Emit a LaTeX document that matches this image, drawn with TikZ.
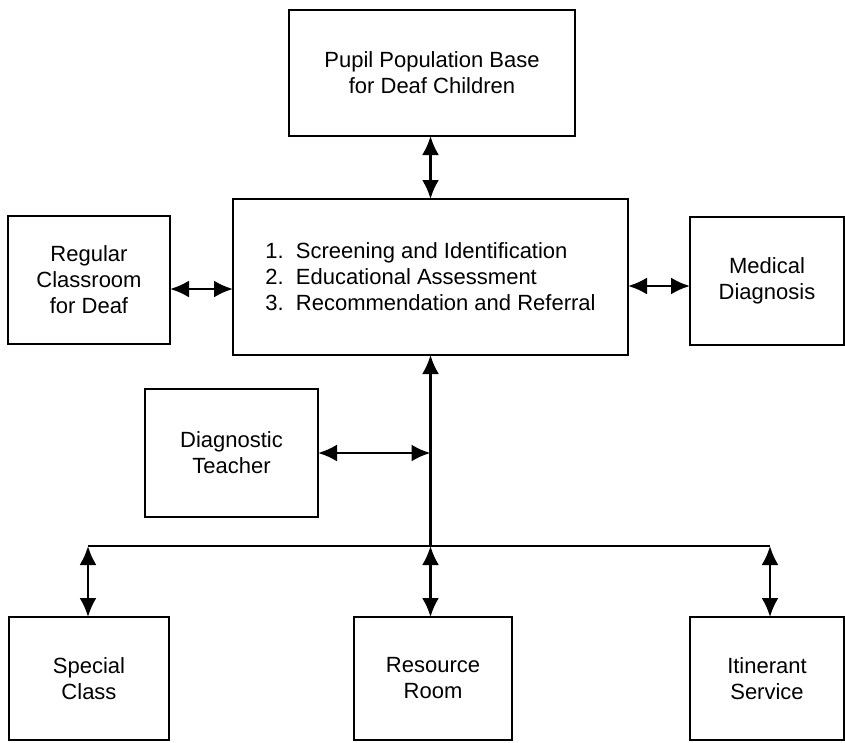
\documentclass[tikz,border=0pt]{standalone}
\usepackage{fontspec}
\setmainfont{Liberation Sans}
\usetikzlibrary{positioning,arrows.meta}
\tikzstyle{box}=[draw=black,line width=2.5pt,inner sep=0pt,outer sep=0pt,
    align=center,font=\fontsize{22}{26}\selectfont]
\tikzstyle{link}=[draw=black,line width=2.6pt,
    arrows={Latex[length=19pt,width=17pt]-Latex[length=19pt,width=17pt]}]
\tikzstyle{uplink}=[draw=black,line width=2.6pt,arrows={Latex[length=19pt,width=17pt]-}]
\tikzstyle{bus}=[draw=black,line width=2.6pt]
\def\boxheight{126pt}

\begin{document}
\begin{tikzpicture}[x=1pt,y=-1pt]
    \useasboundingbox (0,0) rectangle (845,742);
    % upper row
    \node[box, minimum width=286pt, minimum height=\boxheight] (base) at (432,73) {Pupil Population Base\\for Deaf Children};
    \node[box, minimum width=395pt, minimum height=156pt, align=left] (services) at (430.5,277)
        {1.\ \ Screening and Identification\\2.\ \ Educational Assessment\\3.\ \ Recommendation and Referral};
    \node[box, minimum width=162pt, minimum height=128pt] (regular) at (89,280) {Regular\\Classroom\\for Deaf};
    \node[box, minimum width=154pt, minimum height=128pt] (medical) at (767,281) {Medical\\Diagnosis};
    \node[box, minimum width=173pt, minimum height=128pt] (teacher) at (231.5,453) {Diagnostic\\Teacher};
    % lower row
    \node[box, minimum width=160pt, minimum height=123pt] (special) at (89,678.5) {Special\\Class};
    \node[box, minimum width=158pt, minimum height=123pt] (resource) at (433,678.5) {Resource\\Room};
    \node[box, minimum width=154pt, minimum height=123pt] (itinerant) at (767,678.5) {Itinerant\\Service};
    % bus
    \coordinate (busL) at (88,546);
    \coordinate (busM) at (430.5,546);
    \coordinate (busR) at (770,546);
    % connectors
    \draw[link] (services.north |- base.south) -- (services.north);
    \draw[link] ([yshift=-9pt]regular.east) -- ([yshift=-9pt]regular.east -| services.west);
    \draw[link] ([yshift=-9pt]services.east) -- ([yshift=-9pt]services.east -| medical.west);
    \draw[uplink] (services.south) -- (busM);
    \draw[link] (teacher.east) -- (teacher.east -| services.south);
    \draw[bus] (busL) -- (busR);
    \draw[link] (busL) -- (busL |- special.north);
    \draw[link] (busM) -- (busM |- resource.north);
    \draw[link] (busR) -- (busR |- itinerant.north);
\end{tikzpicture}
\end{document}
